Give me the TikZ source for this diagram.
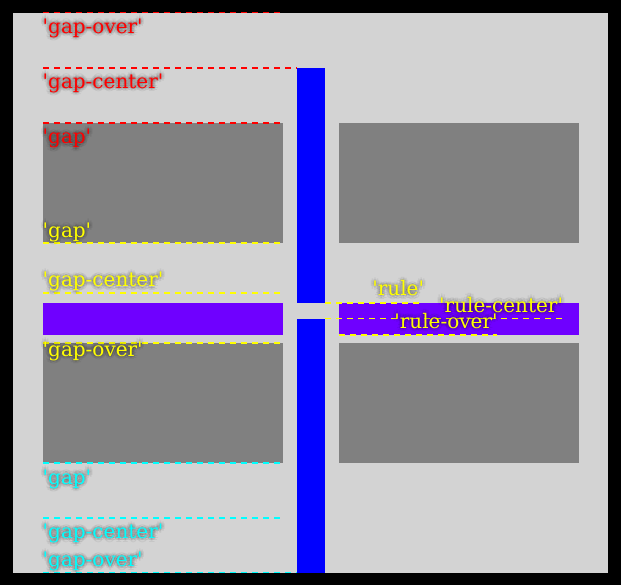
\documentclass[tikz,border=0pt]{standalone}
\usepackage{fontspec}
\newfontfamily\labfont{DejaVu Serif}
\usetikzlibrary{calc}
\definecolor{bgouter}{HTML}{000000}
\definecolor{bginner}{HTML}{D3D3D3}
\definecolor{boxgray}{HTML}{808080}
\definecolor{rulepurple}{HTML}{6F00FF}
\definecolor{barblue}{HTML}{0000FF}
\definecolor{gapred}{HTML}{FF0000}
\definecolor{gapyellow}{HTML}{FFFF00}
\definecolor{gapcyan}{HTML}{00FFFF}
\newcommand\qt[1]{\char"27 #1\char"27}
\newcommand\glowlab[4]{%
  \foreach \aa in {0,45,...,315}{%
    \foreach \rr in {1.5,3.5}{%
      \node[lab,text=black,opacity=.06] at ($(#3)+(\aa:\rr pt)$) {\qt{#4}};
    }%
  }%
  \node[lab,text=#2] (#1) at (#3) {\qt{#4}};
}
\begin{document}
\begin{tikzpicture}[x=1pt,y=-1pt,
  lab/.style={font=\labfont\fontsize{20}{24}\selectfont,inner sep=0pt,anchor=base west},
  gapline/.style={line width=1.8pt,dash pattern=on 6pt off 5pt},
]
\useasboundingbox (0,0) rectangle (621,585);
% frame
\fill[bgouter] (0,0) rectangle (621,585);
\fill[bginner] (13,13) rectangle (608,573);
% boxes
\fill[boxgray] (43,123) rectangle (283,243);
\fill[boxgray] (339,123) rectangle (579,243);
\fill[boxgray] (43,343) rectangle (283,463);
\fill[boxgray] (339,343) rectangle (579,463);
% rules
\fill[rulepurple] (43,303) rectangle (283,335);
\fill[rulepurple] (339,303) rectangle (579,335);
% vertical bars
\fill[barblue] (297,68) rectangle (325,303);
\fill[barblue] (297,319) rectangle (325,573);
% red lines
\draw[gapline,gapred] (43,12.5) -- (283,12.5);
\draw[gapline,gapred] (43,68) -- (297,68);
\draw[gapline,gapred] (43,123) -- (283,123);
% yellow lines
\draw[gapline,gapyellow] (43,243) -- (283,243);
\draw[gapline,gapyellow] (43,293) -- (283,293);
\draw[gapline,gapyellow] (43,343) -- (283,343);
% cyan lines
\draw[gapline,gapcyan] (43,463) -- (283,463);
\draw[gapline,gapcyan] (43,518) -- (283,518);
\draw[gapline,gapcyan] (43,572.5) -- (297,572.5);
% right yellow lines
\draw[gapline,gapyellow] (325,303) -- (422,303);
\draw[gapline,gapyellow] (325,318.5) -- (565,318.5);
\draw[gapline,gapyellow] (339,335) -- (497,335);
% coordinates for labels
\coordinate (pr1) at (42.5,33.5);
\coordinate (pr2) at (42.5,88.5);
\coordinate (pr3) at (42.5,144);
\coordinate (py1) at (42.5,237.5);
\coordinate (py2) at (42.5,287);
\coordinate (py3) at (42.5,356);
\coordinate (pc1) at (42.5,484);
\coordinate (pc2) at (42.5,538.5);
\coordinate (pc3) at (42.5,566.5);
\coordinate (pq1) at (372.2,295.7);
\coordinate (pq2) at (439,312.3);
\coordinate (pq3) at (394.2,328.3);
% labels
\glowlab{r1}{gapred}{pr1}{gap-over}
\glowlab{r2}{gapred}{pr2}{gap-center}
\glowlab{r3}{gapred}{pr3}{gap}
\glowlab{y1}{gapyellow}{py1}{gap}
\glowlab{y2}{gapyellow}{py2}{gap-center}
\glowlab{y3}{gapyellow}{py3}{gap-over}
\glowlab{c1}{gapcyan}{pc1}{gap}
\glowlab{c2}{gapcyan}{pc2}{gap-center}
\glowlab{c3}{gapcyan}{pc3}{gap-over}
\glowlab{q1}{gapyellow}{pq1}{rule}
\glowlab{q2}{gapyellow}{pq2}{rule-center}
\glowlab{q3}{gapyellow}{pq3}{rule-over}
\end{tikzpicture}
\end{document}
